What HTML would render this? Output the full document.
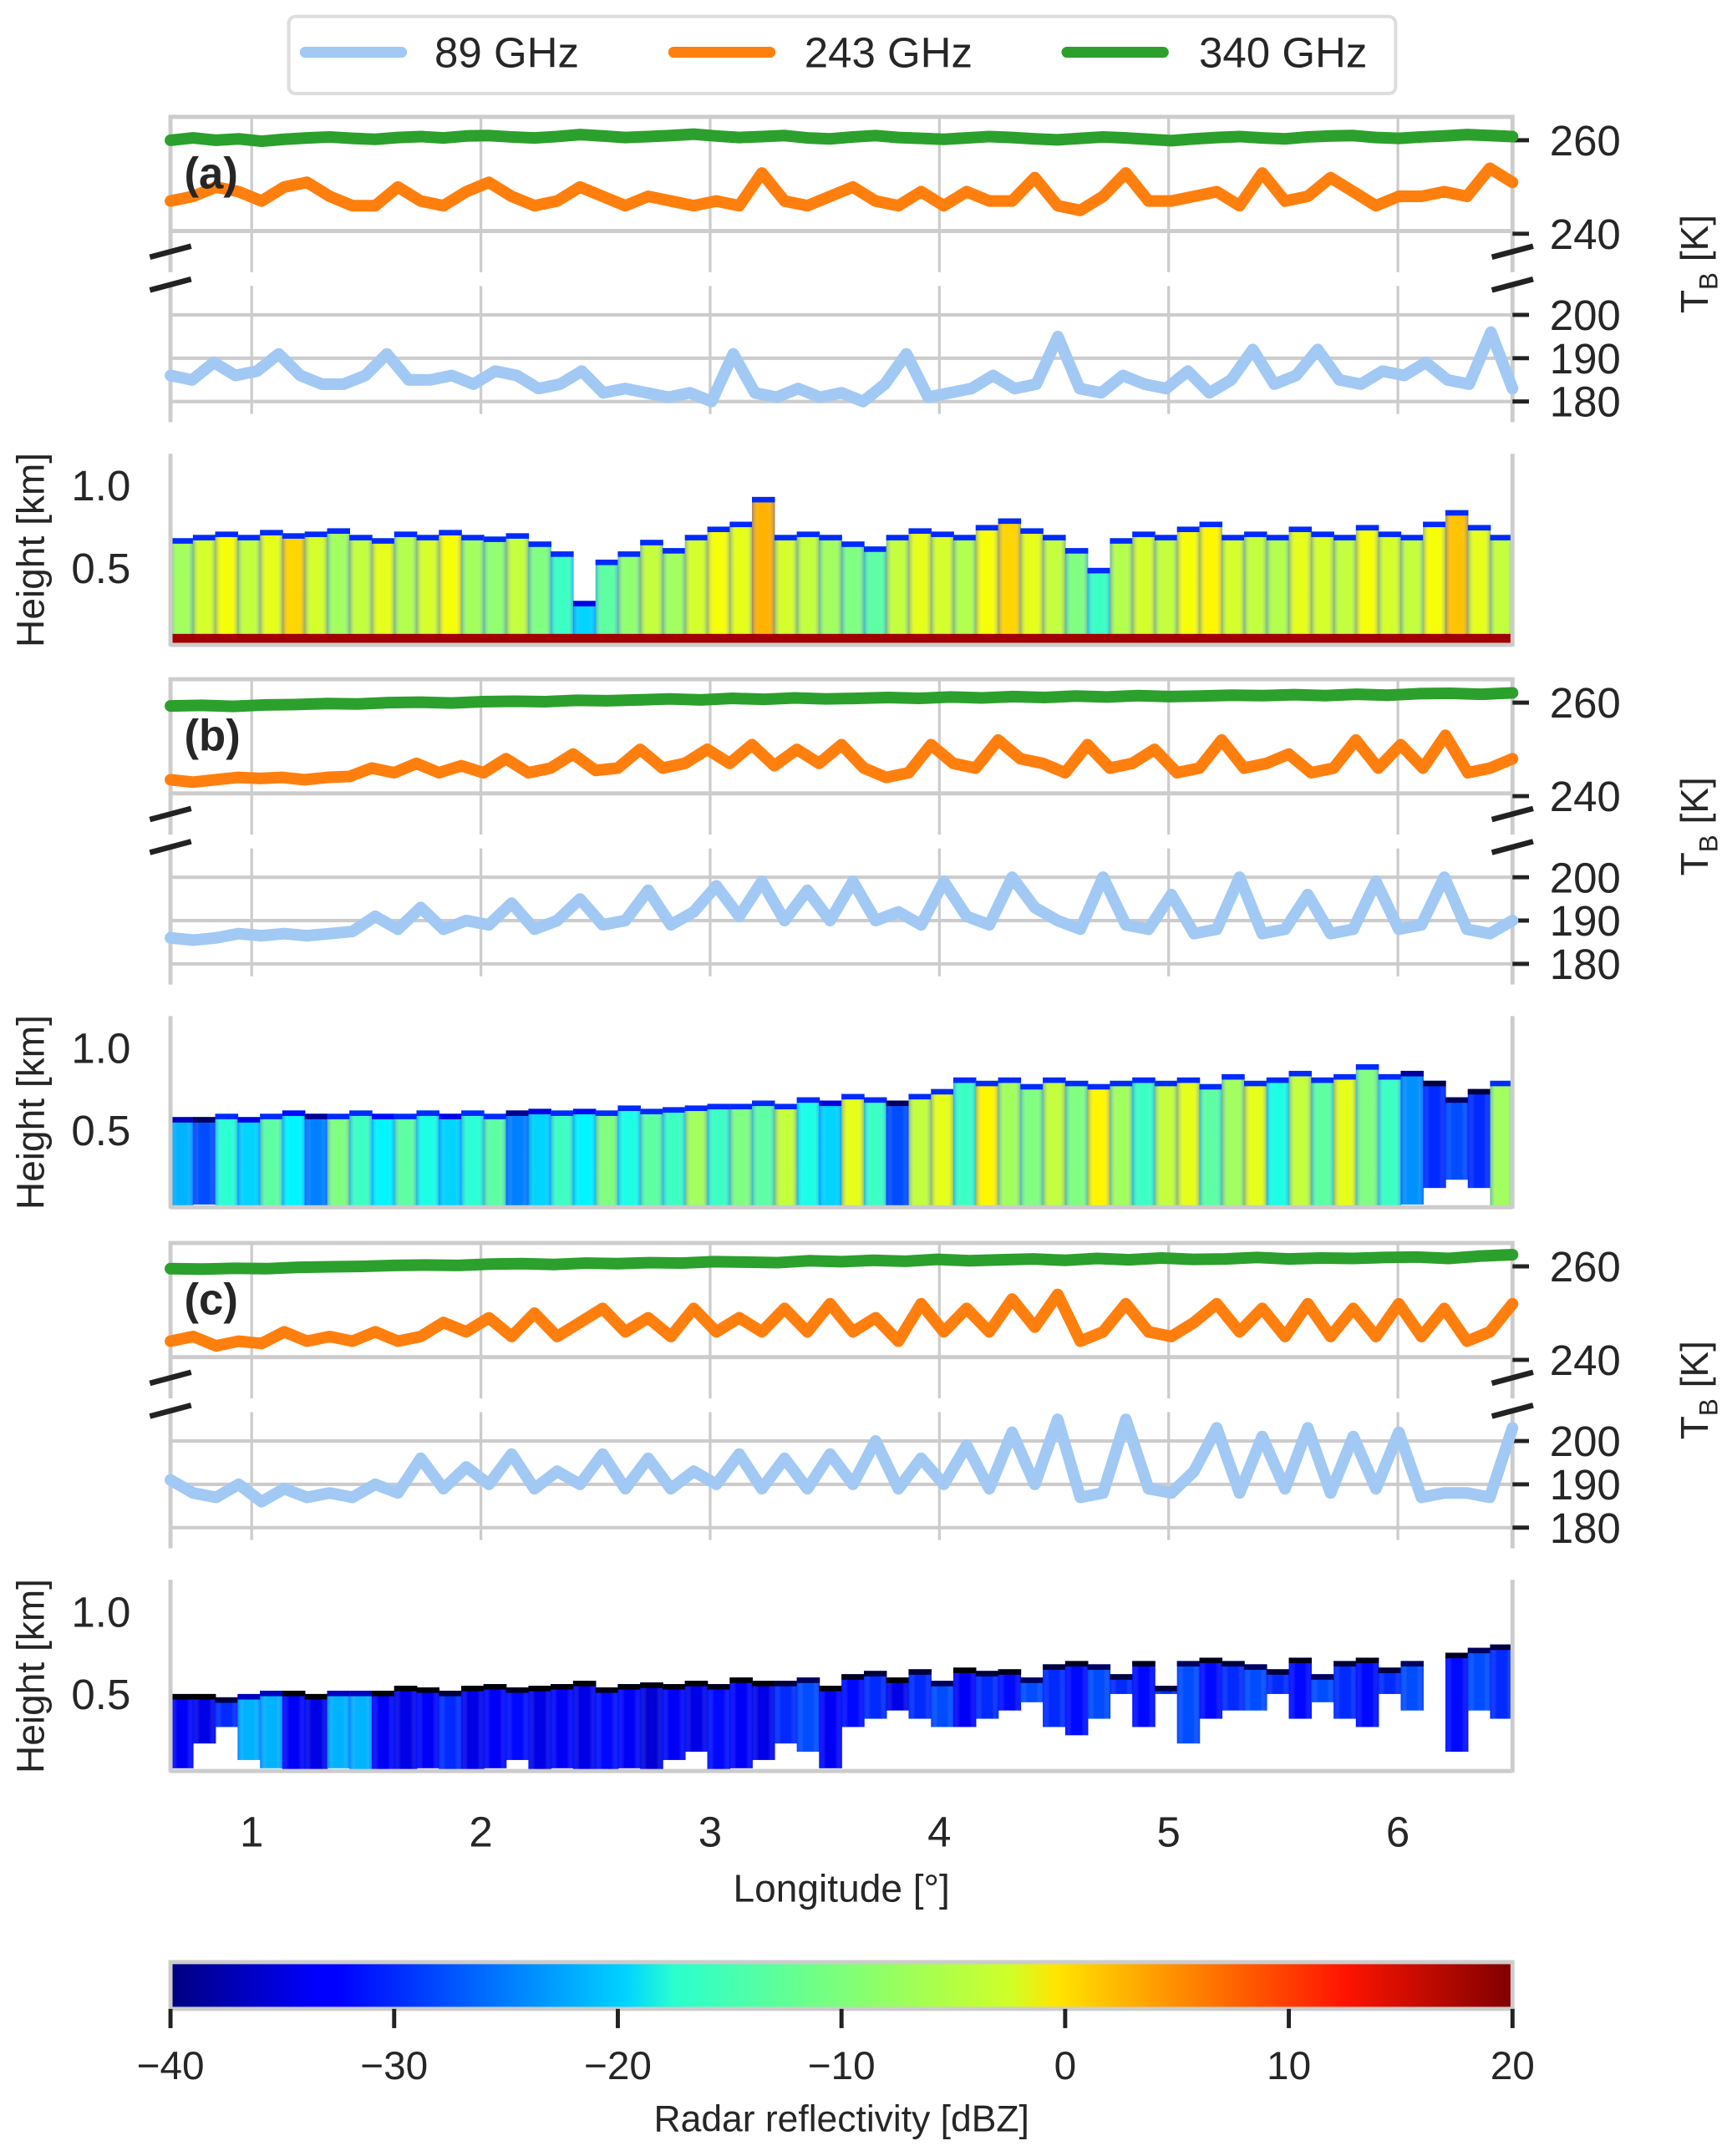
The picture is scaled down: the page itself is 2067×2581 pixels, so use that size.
<!DOCTYPE html>
<html><head><meta charset="utf-8"><title>Brightness temperatures and radar reflectivity by longitude</title>
<style>
html,body{margin:0;padding:0;background:#fff;}
svg{display:block;}
text{font-family:"Liberation Sans",Arial,sans-serif;fill:#262626;}
</style></head>
<body>
<svg id="fig" width="2067" height="2581" viewBox="0 0 1256 1568" preserveAspectRatio="none" xmlns="http://www.w3.org/2000/svg">
<defs>
<linearGradient id="jetgrad" x1="0" x2="1" y1="0" y2="0">
<stop offset="0" stop-color="#00007f"/><stop offset="0.11" stop-color="#0000ff"/>
<stop offset="0.125" stop-color="#0000ff"/><stop offset="0.34" stop-color="#00d4ff"/>
<stop offset="0.375" stop-color="#29ffce"/><stop offset="0.5" stop-color="#7dff7a"/>
<stop offset="0.625" stop-color="#ceff29"/><stop offset="0.66" stop-color="#ffe500"/>
<stop offset="0.875" stop-color="#ff1400"/><stop offset="1" stop-color="#7f0000"/>
</linearGradient>
<linearGradient id="colshade" x1="0" x2="1" y1="0" y2="0">
<stop offset="0" stop-color="#0030ff" stop-opacity="0.35"/>
<stop offset="0.3" stop-color="#ffffff" stop-opacity="0"/>
<stop offset="0.7" stop-color="#ffffff" stop-opacity="0"/>
<stop offset="1" stop-color="#0030ff" stop-opacity="0.35"/>
</linearGradient>
</defs>
<g id="legend">
<rect x="210" y="12" width="805" height="56" rx="5" fill="#fff" stroke="#ddd" stroke-width="2.5"/>
<g><line x1="222" y1="38" x2="292" y2="38" stroke="#a1c9f4" stroke-width="8" stroke-linecap="round"/><text x="316" y="49" font-size="31">89 GHz</text></g>
<g><line x1="490" y1="38" x2="560" y2="38" stroke="#ff7f0e" stroke-width="8" stroke-linecap="round"/><text x="585" y="49" font-size="31">243 GHz</text></g>
<g><line x1="776" y1="38" x2="846" y2="38" stroke="#2ca02c" stroke-width="8" stroke-linecap="round"/><text x="872" y="49" font-size="31">340 GHz</text></g>
</g>
<g id="plots"></g>
<g id="xaxis"></g>
<g id="cbar">
<rect x="124" y="1427" width="976" height="34" fill="url(#jetgrad)" stroke="#ccc" stroke-width="3"/>
<text x="612" y="1550" font-size="27" text-anchor="middle">Radar reflectivity [dBZ]</text>
</g>
</svg>
<script>
// ---- data ----
const lonMin = 0.646, lonMax = 6.5;
const xTicks = [1,2,3,4,5,6];
const cbTicks = [-40,-30,-20,-10,0,10,20];
const panelLabels = ['(a)','(b)','(c)'];
const upperTicks = [260,240];
const lowerTicks = [200,190,180];
const heightTicks = [1.0,0.5];

const a340 = [260,260.5,260,260.3,259.8,260.2,260.5,260.7,260.4,260.2,260.6,260.8,260.5,260.9,261,260.7,260.5,260.8,261.2,260.9,260.6,260.8,261,261.3,260.9,260.6,260.8,261,260.5,260.3,260.7,261,260.6,260.4,260.2,260.5,260.8,260.6,260.3,260.1,260.4,260.7,260.5,260.2,259.9,260.3,260.6,260.8,260.5,260.3,260.7,260.9,261,260.6,260.4,260.7,260.9,261.2,261,260.8];
const a243 = [247,248,250,249,247,250,251,248,246,246,250,247,246,249,251,248,246,247,250,248,246,248,247,246,247,246,253,247,246,248,250,247,246,249,246,249,247,247,252,246,245,248,253,247,247,248,249,246,253,247,248,252,249,246,248,248,249,248,254,251];
const a89 = [186,185,189,186,187,191,186,184,184,186,191,185,185,186,184,187,186,183,184,187,182,183,182,181,182,180,191,182,181,183,181,182,180,184,191,181,182,183,186,183,184,195,183,182,186,184,183,187,182,185,192,184,186,192,185,184,187,186,189,185,184,196,183];
const b340 = [259.3,259.4,259.2,259.5,259.6,259.8,259.7,260,260.1,259.9,260.2,260.3,260.2,260.5,260.4,260.6,260.8,260.6,260.9,260.7,261,260.8,260.9,261.1,260.9,261.2,261,261.3,261.1,261.4,261.2,261.5,261.3,261.4,261.6,261.5,261.7,261.5,261.8,261.6,261.9,262,261.8,262.1];
const b243 = [243.5,243,243.5,244,243.8,244,243.5,244,244.2,246,245,247,245,246.5,245,248,245,246,249,245.5,246,250,246,247,250,247,251,246.5,250,247,251,246,244,245,251,247,246,252,248,247,245,251,246,247,250,245,246,252,246,247,249,245,246,252,246,251,246,253,245,246,248];
const b89 = [186,185.5,186,187,186.5,187,186.5,187,187.5,191,188,193,188,190,189,194,188,190,195,189,190,197,189,192,198,191,199,190,197,190,199,190,192,189,199,191,189,200,193,190,188,200,189,188,196,187,188,200,187,188,196,187,188,199,188,189,200,188,187,190];
const c340 = [259.5,259.4,259.6,259.5,259.8,259.9,260,260.2,260.3,260.2,260.5,260.6,260.4,260.7,260.6,260.8,260.7,261,260.9,260.8,261.2,261,261.3,261.1,261.5,261.2,261.4,261.6,261.3,261.7,261.4,261.8,261.5,261.6,261.9,261.6,261.8,261.7,261.9,262,261.7,262.2,262.5];
const c243 = [244,245,243,244,243.5,246,244,245,244,246,244,245,248,246,249,245,250,245,248,251,246,249,245,251,246,249,246,251,246,252,246,249,244,252,246,251,246,253,247,254,244,246,252,246,245,248,252,246,251,245,252,245,251,245,252,245,251,244,246,252];
const c89 = [191,188,187,190,186,189,187,188,187,190,188,196,189,194,190,197,189,193,190,197,189,196,189,193,190,197,189,196,189,197,190,200,189,196,190,199,189,202,190,205,187,188,205,189,188,193,203,188,201,189,203,188,201,189,202,187,188,188,187,203];

const aTop = [0.68,0.7,0.72,0.7,0.73,0.71,0.72,0.74,0.7,0.68,0.72,0.7,0.73,0.7,0.69,0.71,0.66,0.6,0.3,0.55,0.6,0.67,0.62,0.7,0.75,0.78,0.93,0.7,0.72,0.7,0.66,0.63,0.7,0.74,0.72,0.7,0.76,0.8,0.74,0.7,0.62,0.5,0.68,0.72,0.7,0.75,0.78,0.7,0.72,0.7,0.75,0.72,0.7,0.76,0.72,0.7,0.78,0.85,0.76,0.7];
const aBot = [0,0,0,0,0,0,0,0,0,0,0,0,0,0,0,0,0,0,0,0,0,0,0,0,0,0,0,0,0,0,0,0,0,0,0,0,0,0,0,0,0,0,0,0,0,0,0,0,0,0,0,0,0,0,0,0,0,0,0,0];
const aZ = [-8,-5,-3,-6,-4,0,-5,-8,-6,-4,-7,-5,-3,-8,-9,-6,-10,-14,-20,-12,-9,-6,-8,-5,-3,-4,2,-5,-6,-8,-10,-12,-6,-4,-5,-7,-3,0,-4,-6,-10,-14,-7,-5,-6,-3,-2,-5,-6,-7,-4,-5,-6,-3,-5,-6,-3,1,-4,-6];
const bTop = [0.58,0.58,0.6,0.58,0.6,0.62,0.6,0.6,0.62,0.6,0.6,0.62,0.6,0.62,0.6,0.62,0.63,0.62,0.63,0.62,0.65,0.63,0.64,0.65,0.66,0.66,0.68,0.66,0.7,0.68,0.72,0.7,0.68,0.72,0.75,0.82,0.8,0.82,0.78,0.82,0.8,0.78,0.8,0.82,0.8,0.82,0.78,0.84,0.8,0.82,0.86,0.82,0.84,0.9,0.84,0.86,0.8,0.7,0.75,0.8];
const bBot = [0.02,0.05,0,0.02,0,0,0.03,0,0,0,0,0,0.02,0,0,0.03,0,0,0,0,0,0,0,0,0,0,0,0,0,0.02,0,0,0.04,0,0,0,0,0,0,0,0,0,0,0,0,0,0,0,0,0,0,0,0,0,0,0.05,0.15,0.2,0.15,0];
const bZ = [-22,-28,-15,-20,-12,-18,-25,-10,-14,-18,-12,-16,-20,-15,-12,-25,-20,-14,-18,-10,-16,-12,-14,-8,-14,-10,-12,-6,-16,-20,-4,-14,-28,-6,-4,-14,-2,-8,-10,-6,-10,-2,-8,-14,-6,-4,-12,-8,-4,-16,-6,-12,-4,-10,-14,-24,-30,-28,-30,-8];
const cTop = [0.5,0.5,0.48,0.5,0.52,0.52,0.5,0.52,0.52,0.52,0.55,0.54,0.52,0.55,0.56,0.54,0.55,0.56,0.58,0.54,0.56,0.57,0.56,0.58,0.56,0.6,0.58,0.58,0.6,0.55,0.62,0.64,0.6,0.65,0.58,0.66,0.64,0.65,0.6,0.68,0.7,0.68,0.62,0.7,0.55,0.7,0.72,0.7,0.68,0.65,0.72,0.62,0.7,0.72,0.66,0.7,0.5,0.75,0.78,0.8];
const cBot = [0.05,0.2,0.3,0.1,0.05,0.02,0.02,0.05,0.02,0.02,0.02,0.05,0.02,0.02,0.05,0.1,0.02,0.05,0.02,0.02,0.05,0.02,0.1,0.15,0.02,0.05,0.1,0.2,0.15,0.05,0.3,0.35,0.4,0.35,0.3,0.3,0.35,0.4,0.45,0.3,0.25,0.35,0.5,0.3,0.5,0.2,0.35,0.4,0.4,0.5,0.35,0.45,0.35,0.3,0.5,0.4,0.5,0.15,0.4,0.35];
const cZ = [-33,-34,-30,-22,-22,-33,-34,-22,-22,-33,-34,-33,-30,-34,-33,-32,-34,-33,-34,-32,-33,-35,-33,-34,-32,-33,-34,-30,-28,-33,-32,-30,-34,-30,-28,-33,-30,-32,-28,-30,-32,-28,-30,-32,-30,-28,-32,-30,-28,-30,-32,-28,-30,-32,-30,-28,-30,-32,-28,-30];

// ---- helpers ----
const NS = 'http://www.w3.org/2000/svg';
const X0 = 124, X1 = 1100;
function xs(lon){ return X0 + (lon - lonMin) / (lonMax - lonMin) * (X1 - X0); }
function lonAt(i, n){ return lonMin + i * (lonMax - lonMin) / (n - 1); }
function mk(tag, attrs, parent){ const e = document.createElementNS(NS, tag); for (const k in attrs) e.setAttribute(k, attrs[k]); parent.appendChild(e); return e; }
function jet(v){
  const r = Math.max(0, Math.min(1, 1.5 - Math.abs(4*v - 3)));
  const g = Math.max(0, Math.min(1, 1.5 - Math.abs(4*v - 2)));
  const b = Math.max(0, Math.min(1, 1.5 - Math.abs(4*v - 1)));
  return `rgb(${Math.round(r*255)},${Math.round(g*255)},${Math.round(b*255)})`;
}
function zs(z){ return (z + 40) / 60; }
const plots = document.getElementById('plots');
const GRID = '#cccccc';

const panels = [
  {s340:a340, s243:a243, s89:a89, top:aTop, bot:aBot, z:aZ, off:0, clutter:true},
  {s340:b340, s243:b243, s89:b89, top:bTop, bot:bBot, z:bZ, off:409, clutter:false},
  {s340:c340, s243:c243, s89:c89, top:cTop, bot:cBot, z:cZ, off:819, clutter:false}
];

panels.forEach((p, pi) => {
  const o = p.off;
  const g = mk('g', {}, plots);
  
  
  const yU = v => 102 + o + (260 - v) * 3.4;
  const yL = v => 229 + o + (200 - v) * 3.15;
  const yH = v => 473 + o - v * 120;
  xTicks.forEach(t => {
    const x = xs(t);
    mk('line', {x1:x, x2:x, y1:85+o, y2:198+o, stroke:GRID, 'stroke-width':2}, g);
    mk('line', {x1:x, x2:x, y1:208+o, y2:301+o, stroke:GRID, 'stroke-width':2}, g);
  });
  lowerTicks.forEach(t => mk('line', {x1:X0, x2:X1, y1:yL(t), y2:yL(t), stroke:GRID, 'stroke-width':2.5}, g));
  mk('rect', {x:X0, y:85+o, width:X1-X0, height:83, fill:'none', stroke:GRID, 'stroke-width':3}, g);
  mk('line', {x1:X0, x2:X0, y1:168+o, y2:198+o, stroke:GRID, 'stroke-width':3}, g);
  mk('line', {x1:X1, x2:X1, y1:168+o, y2:198+o, stroke:GRID, 'stroke-width':3}, g);
  mk('line', {x1:X0, x2:X0, y1:208+o, y2:307+o, stroke:GRID, 'stroke-width':3}, g);
  mk('line', {x1:X1, x2:X1, y1:208+o, y2:307+o, stroke:GRID, 'stroke-width':3}, g);
  [[X0,183],[X0,207],[X1,183],[X1,207]].forEach(([bx,by]) => {
    const bm = mk('line', {x1:bx-15, y1:by+o+4, x2:bx+15, y2:by+o-4, stroke:'#222', 'stroke-width':4}, g);
    
    
  });
  upperTicks.forEach(t => {
    mk('line', {x1:X1, x2:X1+12, y1:yU(t), y2:yU(t), stroke:'#222', 'stroke-width':3}, g);
    const tx = mk('text', {x:1127, y:yU(t)+11, 'font-size':31}, g); tx.textContent = t;
    
    
  });
  lowerTicks.forEach(t => {
    mk('line', {x1:X1, x2:X1+12, y1:yL(t), y2:yL(t), stroke:'#222', 'stroke-width':3}, g);
    const tx = mk('text', {x:1127, y:yL(t)+11, 'font-size':31}, g); tx.textContent = t;
    
    
  });
  const tb = mk('text', {transform:`translate(1242 ${192+o}) rotate(-90)`, 'font-size':28, 'text-anchor':'middle'}, g);
  tb.innerHTML = 'T<tspan font-size="19" dy="7">B</tspan><tspan dy="-7"> [K]</tspan>';
  
  
  function line(arr, yf, col, name){
    const pts = arr.map((v,i) => xs(lonAt(i, arr.length)).toFixed(1) + ',' + yf(v).toFixed(1)).join(' ');
    const pl = mk('polyline', {points:pts, fill:'none', stroke:col, 'stroke-width':8.5, 'stroke-linejoin':'round', 'stroke-linecap':'round'}, g);
    
    
  }
  line(p.s340, yU, '#2ca02c', 'series-340ghz');
  line(p.s243, yU, '#ff7f0e', 'series-243ghz');
  line(p.s89, yL, '#a1c9f4', 'series-89ghz');
  const pl = mk('text', {x:134, y:137+o, 'font-size':32, 'font-weight':'bold'}, g);
  pl.textContent = panelLabels[pi];
  
  

  const rg = mk('g', {}, g);
  
  
  const n = p.top.length;
  const w = (X1 - X0) / n;
  for (let i = 0; i < n; i++) {
    const x = X0 + i * w;
    const yt = yH(p.top[i]), yb = Math.min(yH(p.bot[i]), 468 + o);
    const h = Math.max(0, yb - yt);
    const c = mk('rect', {x:x.toFixed(1), y:yt.toFixed(1), width:(w+0.4).toFixed(1), height:h.toFixed(1), fill:jet(zs(p.z[i]))}, rg);
    
    
    mk('rect', {x:x.toFixed(1), y:yt.toFixed(1), width:(w+0.4).toFixed(1), height:h.toFixed(1), fill:'url(#colshade)'}, rg);
    mk('rect', {x:x.toFixed(1), y:yt.toFixed(1), width:(w+0.4).toFixed(1), height:Math.min(4,h).toFixed(1), fill:jet(zs(Math.min(p.z[i]-14, -30)))}, rg);
  }
  if (p.clutter) {
    const cl = mk('rect', {x:X0, y:461+o, width:X1-X0, height:7, fill:'#a00000'}, rg);
    
    
  }
  mk('line', {x1:X0, x2:X0, y1:330+o, y2:470+o, stroke:GRID, 'stroke-width':3}, g);
  mk('line', {x1:X1, x2:X1, y1:330+o, y2:470+o, stroke:GRID, 'stroke-width':3}, g);
  mk('line', {x1:X0, x2:X1, y1:469+o, y2:469+o, stroke:GRID, 'stroke-width':3}, g);
  heightTicks.forEach(t => {
    const tx = mk('text', {x:95, y:yH(t)+11, 'font-size':31, 'text-anchor':'end'}, g);
    tx.textContent = t.toFixed(1);
    
    
  });
  const hl = mk('text', {transform:`translate(32 ${400+o}) rotate(-90)`, 'font-size':28, 'text-anchor':'middle'}, g);
  hl.textContent = 'Height [km]';
  
  
});

const xa = document.getElementById('xaxis');
xTicks.forEach(t => {
  const tx = mk('text', {x:xs(t), y:1343, 'font-size':31, 'text-anchor':'middle'}, xa);
  tx.textContent = t;
  
  
});
const xl = mk('text', {x:612, y:1383, 'font-size':28, 'text-anchor':'middle'}, xa);
xl.textContent = 'Longitude [°]';



const cb = document.getElementById('cbar');
cbTicks.forEach(t => {
  const x = 124 + (t + 40) / 60 * 976;
  mk('line', {x1:x, x2:x, y1:1461, y2:1475, stroke:'#222', 'stroke-width':3}, cb);
  const tx = mk('text', {x:x, y:1512, 'font-size':29, 'text-anchor':'middle'}, cb);
  tx.textContent = t < 0 ? '\u2212' + Math.abs(t) : String(t);
  
  
});
</script>
</body></html>
